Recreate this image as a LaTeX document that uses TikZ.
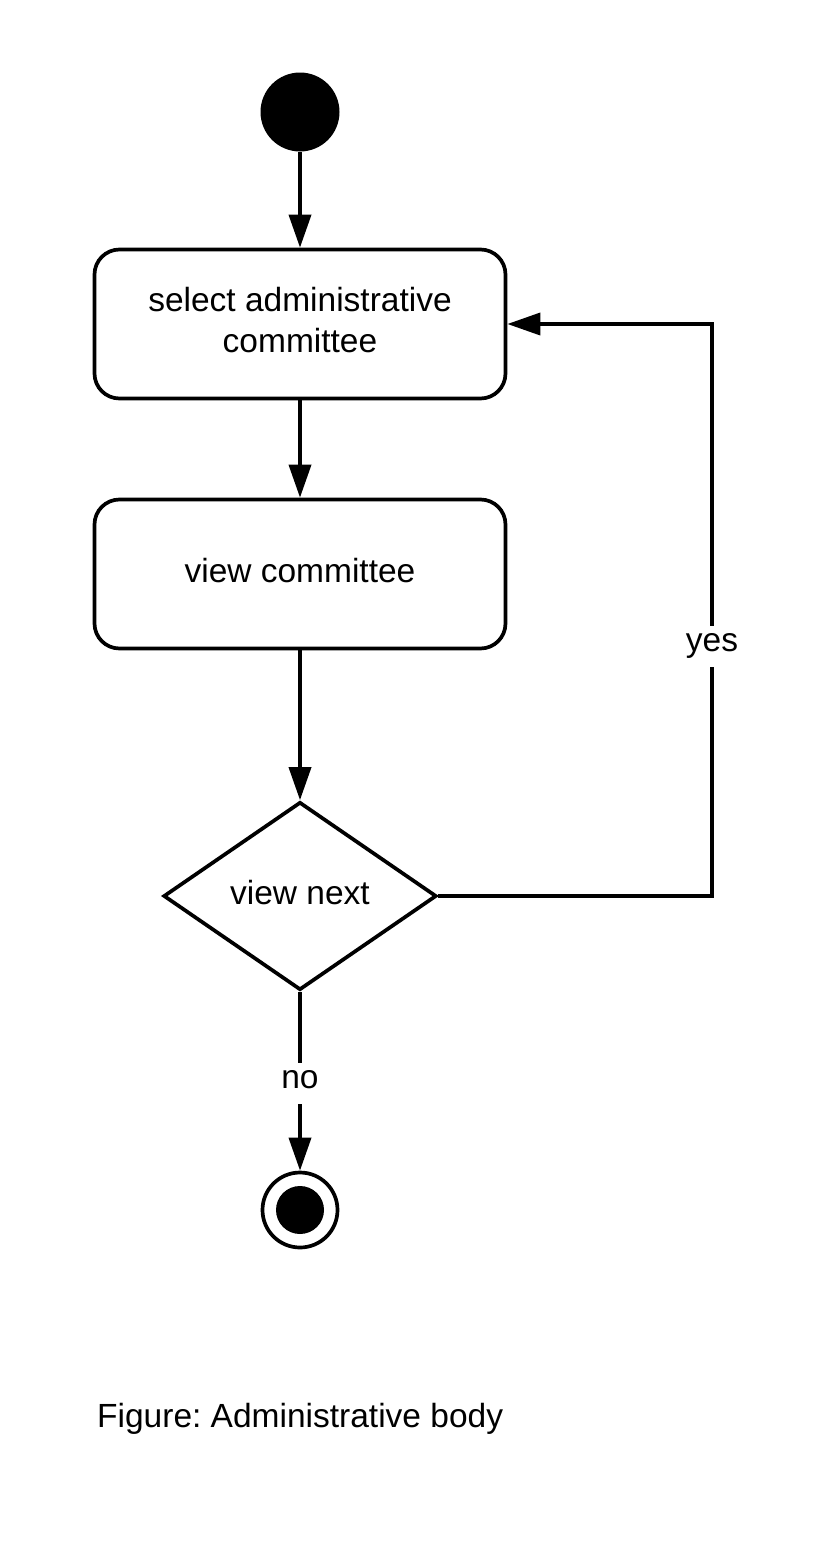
\documentclass[tikz,border=0pt]{standalone}
\usepackage{fontspec}
\setmainfont{Liberation Sans}
\frenchspacing
\usetikzlibrary{arrows.meta,shapes.geometric}
\begin{document}
\begin{tikzpicture}[x=1pt,y=-1pt,
  every node/.style={font=\fontsize{33.5pt}{41pt}\selectfont},
  ln/.style={line width=3.7pt},
  flow/.style={ln,-{Triangle[length=33pt,width=22pt]}},
  act/.style={ln,draw,rounded corners=25pt,minimum width=411pt,minimum height=149pt,align=center,inner sep=0pt,text depth=8pt},
  dec/.style={ln,draw,diamond,minimum width=273pt,minimum height=188pt,inner sep=0pt,text depth=8pt},
  lbl/.style={fill=white,inner xsep=4pt,inner ysep=7pt,text height=19pt,text depth=8pt}
]
\useasboundingbox[fill=white] (0,0) rectangle (812,1553);
\node[circle,fill=black,minimum size=79pt,inner sep=0pt] (start) at (300,112) {};
\node[act] (b1) at (300,324) {select administrative\\committee};
\node[act] (b2) at (300,574) {view committee};
\node[dec] (d) at (300,896) {view next};
\node[circle,draw,ln,minimum size=75pt,inner sep=0pt] (end) at (300,1210) {};
\node[circle,fill=black,minimum size=48pt,inner sep=0pt] (endin) at (end.center) {};
\coordinate (c1) at (712,896);
\coordinate (c2) at (712,324);
\draw[flow] (start) -- (b1);
\draw[flow] (b1) -- (b2);
\draw[flow] (b2) -- (d);
\draw[flow] (d.south) -- (end);
\draw[flow] (d.east) -- (c1) -- (c2) -- (b1.east);
\node[lbl] (yes) at (712,646) {yes};
\node[lbl] (no) at (300,1083) {no};
\node[anchor=base west,inner sep=0pt] (cap) at (97,1427) {Figure: Administrative body};
\end{tikzpicture}
\end{document}
